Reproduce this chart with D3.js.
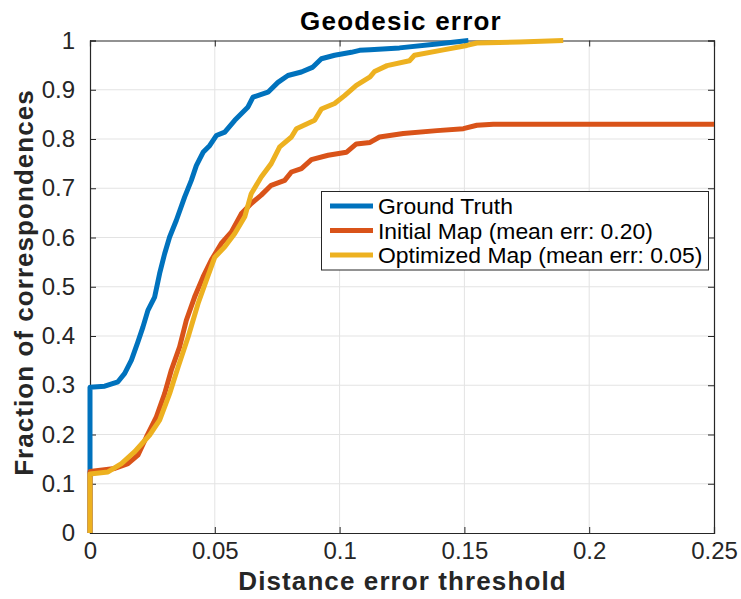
<!DOCTYPE html>
<html><head><meta charset="utf-8">
<script src="https://cdn.jsdelivr.net/npm/d3@7"></script>
<style>body{margin:0;background:#fff}svg{display:block}text{font-family:"Liberation Sans",Arial,Helvetica,sans-serif}</style>
</head><body>
<script>
const xTicks = [0, 0.05, 0.1, 0.15, 0.2, 0.25];
const xTickLabels = ["0", "0.05", "0.1", "0.15", "0.2", "0.25"];
const yTicks = [0, 0.1, 0.2, 0.3, 0.4, 0.5, 0.6, 0.7, 0.8, 0.9, 1];
const yTickLabels = ["0", "0.1", "0.2", "0.3", "0.4", "0.5", "0.6", "0.7", "0.8", "0.9", "1"];
const seriesNames = ["Ground Truth", "Initial Map (mean err: 0.20)", "Optimized Map (mean err: 0.05)"];
const seriesColors = ["#0072BD", "#D95319", "#EDB120"];

const groundTruth = [[0,0],[0,0.296],[0.0059,0.298],[0.0112,0.307],[0.0139,0.324],[0.0166,0.351],[0.0192,0.388],[0.0212,0.418],[0.0232,0.452],[0.0259,0.479],[0.0279,0.527],[0.0299,0.567],[0.0319,0.601],[0.0346,0.635],[0.0379,0.682],[0.0406,0.716],[0.0426,0.746],[0.0453,0.773],[0.048,0.787],[0.0506,0.807],[0.054,0.814],[0.058,0.838],[0.0633,0.865],[0.0653,0.885],[0.0713,0.895],[0.0753,0.915],[0.0793,0.929],[0.0847,0.936],[0.0893,0.946],[0.0927,0.963],[0.098,0.970],[0.1047,0.976],[0.108,0.980],[0.1122,0.981],[0.124,0.985],[0.139,0.993],[0.1516,1.0]];
const initialMap = [[0,0],[0,0.125],[0.0099,0.131],[0.0152,0.141],[0.0192,0.158],[0.0226,0.195],[0.0266,0.236],[0.0299,0.283],[0.0326,0.331],[0.0359,0.378],[0.0386,0.432],[0.0419,0.479],[0.0453,0.520],[0.0486,0.554],[0.0526,0.588],[0.0566,0.611],[0.0606,0.648],[0.0646,0.669],[0.0686,0.686],[0.0726,0.706],[0.078,0.716],[0.0807,0.733],[0.0847,0.740],[0.0887,0.758],[0.0954,0.767],[0.1027,0.773],[0.1067,0.790],[0.1122,0.793],[0.116,0.804],[0.1255,0.811],[0.139,0.817],[0.1496,0.821],[0.155,0.828],[0.1616,0.830],[0.25,0.830]];
const optimizedMap = [[0,0],[0,0.12],[0.0072,0.124],[0.0126,0.141],[0.0179,0.165],[0.0239,0.199],[0.0279,0.229],[0.0319,0.283],[0.0353,0.337],[0.0393,0.398],[0.0433,0.466],[0.0466,0.513],[0.05,0.560],[0.054,0.581],[0.058,0.608],[0.062,0.642],[0.0646,0.689],[0.0686,0.723],[0.0726,0.750],[0.076,0.784],[0.0807,0.804],[0.0827,0.821],[0.09,0.838],[0.0927,0.861],[0.098,0.872],[0.102,0.888],[0.1067,0.909],[0.1122,0.926],[0.114,0.937],[0.119,0.949],[0.128,0.959],[0.130,0.970],[0.1416,0.981],[0.151,0.990],[0.155,0.995],[0.172,0.997],[0.1896,1.0]];
const allSeries = [groundTruth, initialMap, optimizedMap];

const W = 741, H = 599;
const L = 90, R = 714, T = 40.5, B = 533;
const axisColor = "#262626";

const svg = d3.select("body").append("svg").attr("width", W).attr("height", H);
svg.append("rect").attr("width", W).attr("height", H).attr("fill", "#fff");

const x = d3.scaleLinear().domain([0, 0.25]).range([L, R]);
const y = d3.scaleLinear().domain([0, 1]).range([B, T]);

// grid
const g = svg.append("g");
g.selectAll(".gx").data(xTicks.slice(1, -1)).enter().append("line")
  .attr("x1", d => x(d)).attr("x2", d => x(d)).attr("y1", T).attr("y2", B)
  .attr("stroke", "#e3e3e3").attr("stroke-width", 1);
g.selectAll(".gy").data(yTicks.slice(1, -1)).enter().append("line")
  .attr("y1", d => y(d)).attr("y2", d => y(d)).attr("x1", L).attr("x2", R)
  .attr("stroke", "#e3e3e3").attr("stroke-width", 1);

// axes (inward ticks, box with ticks on all sides)
const xAxisB = d3.axisBottom(x).tickValues(xTicks).tickSize(-6).tickFormat((d, i) => xTickLabels[i]).tickPadding(9);
const xAxisT = d3.axisTop(x).tickValues(xTicks).tickSize(-6).tickFormat("");
const yAxisL = d3.axisLeft(y).tickValues(yTicks).tickSize(-6).tickFormat((d, i) => yTickLabels[i]).tickPadding(15);
const yAxisR = d3.axisRight(y).tickValues(yTicks).tickSize(-6).tickFormat("");
function style(sel) {
  sel.select(".domain").attr("stroke", axisColor).attr("stroke-width", 1.2);
  sel.selectAll(".tick line").attr("stroke", axisColor).attr("stroke-width", 1);
  sel.selectAll(".tick text").attr("fill", "#262626").attr("font-size", 24)
    .attr("font-family", '"Liberation Sans",Arial,sans-serif');
}
svg.append("g").attr("transform", `translate(0,${B})`).call(xAxisB).call(style);
svg.append("g").attr("transform", `translate(0,${T})`).call(xAxisT).call(style);
svg.append("g").attr("transform", `translate(${L},0)`).call(yAxisL).call(style);
svg.append("g").attr("transform", `translate(${R},0)`).call(yAxisR).call(style);

// lines
const line = d3.line().x(d => x(d[0])).y(d => y(d[1]));
svg.append("g").selectAll("path").data(allSeries).enter().append("path")
  .attr("d", line).attr("fill", "none")
  .attr("stroke", (d, i) => seriesColors[i]).attr("stroke-width", 5)
  .attr("stroke-linejoin", "round");

// legend
const lg = svg.append("g");
lg.append("rect").attr("x", 321.5).attr("y", 191.5).attr("width", 387).attr("height", 78.5)
  .attr("fill", "#fff").attr("stroke", axisColor).attr("stroke-width", 1);
const rowY = [206, 230.5, 255];
seriesNames.forEach((n, i) => {
  lg.append("line").attr("x1", 330).attr("x2", 373).attr("y1", rowY[i]).attr("y2", rowY[i])
    .attr("stroke", seriesColors[i]).attr("stroke-width", 5);
  lg.append("text").attr("x", 378).attr("y", rowY[i] + 8).attr("font-size", 22.9)
    .attr("fill", "#000").text(n);
});

// titles
svg.append("text").attr("x", 401).attr("y", 30).attr("text-anchor", "middle")
  .attr("font-size", 26).attr("font-weight", "bold").attr("letter-spacing", 1.2).attr("fill", "#000")
  .text("Geodesic error");
svg.append("text").attr("x", 402.5).attr("y", 590).attr("text-anchor", "middle")
  .attr("font-size", 26).attr("font-weight", "bold").attr("letter-spacing", 1.1).attr("fill", "#262626")
  .text("Distance error threshold");
svg.append("text").attr("transform", "translate(33,282.5) rotate(-90)").attr("text-anchor", "middle")
  .attr("font-size", 26).attr("font-weight", "bold").attr("letter-spacing", 1.05).attr("fill", "#262626")
  .text("Fraction of correspondences");
</script>
</body></html>
